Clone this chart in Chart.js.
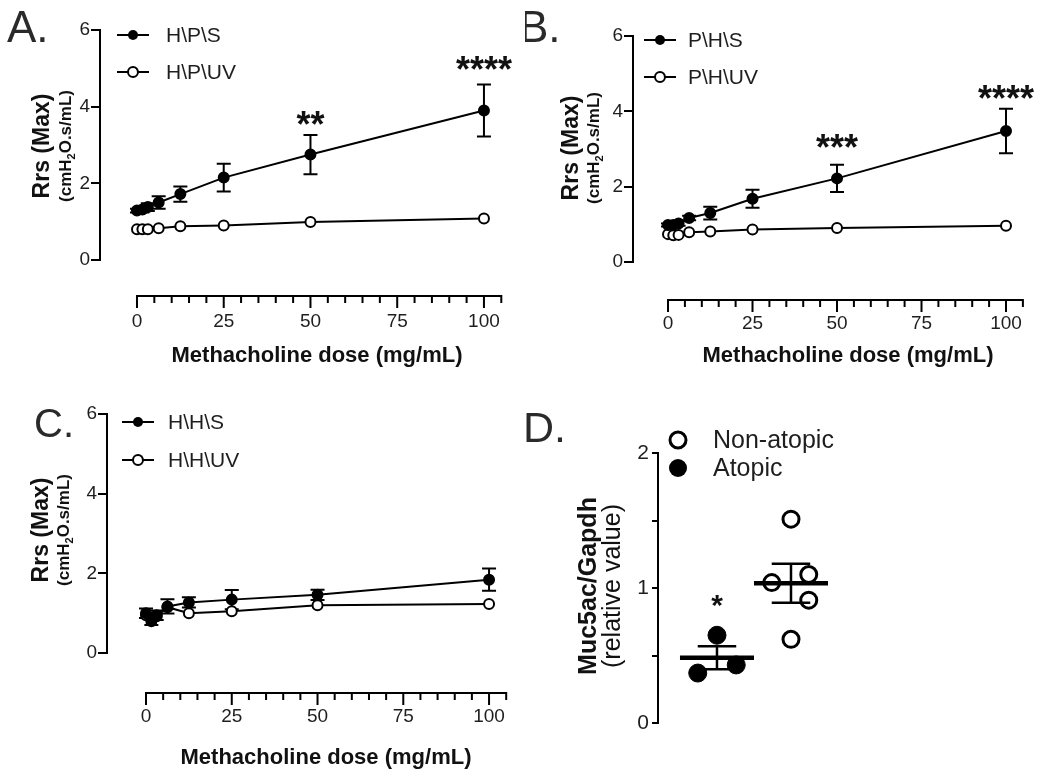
<!DOCTYPE html>
<html><head><meta charset="utf-8">
<script src="https://cdn.jsdelivr.net/npm/chart.js@4.4.1/dist/chart.umd.min.js"></script>
<style>
html,body{margin:0;padding:0;background:#fff;}
body{width:1050px;height:780px;position:relative;overflow:hidden;}
.panel{position:absolute;width:525px;height:390px;}
.panel canvas{display:block;}
</style></head><body>
<div class="panel" style="left:0;top:0"><canvas id="cA" width="525" height="390"></canvas></div>
<div class="panel" style="left:525px;top:0"><canvas id="cB" width="525" height="390"></canvas></div>
<div class="panel" style="left:0;top:390px"><canvas id="cC" width="525" height="390"></canvas></div>
<div class="panel" style="left:525px;top:390px"><canvas id="cD" width="525" height="390"></canvas></div>
<script>
// ---------------- DATA ----------------
const doses = [0, 1.5625, 3.125, 6.25, 12.5, 25, 50, 100];
const xTickValues = [0, 25, 50, 75, 100];
const rrsTickValues = [0, 2, 4, 6];

// Panel A
const hpsMean  = [1.29, 1.32, 1.38, 1.50, 1.72, 2.15, 2.75, 3.90];
const hpsSem   = [0.05, 0.08, 0.10, 0.16, 0.20, 0.36, 0.51, 0.68];
const hpuvMean = [0.80, 0.80, 0.80, 0.83, 0.88, 0.90, 0.99, 1.08];
// Panel B
const phsMean  = [0.98, 0.98, 1.02, 1.17, 1.30, 1.68, 2.22, 3.48];
const phsSem   = [0.04, 0.05, 0.06, 0.06, 0.17, 0.24, 0.36, 0.59];
const phuvMean = [0.74, 0.71, 0.72, 0.79, 0.81, 0.86, 0.90, 0.96];
// Panel C
const hhsMean  = [1.00, 0.80, 0.95, 1.17, 1.27, 1.34, 1.46, 1.84];
const hhsSem   = [0.12, 0.10, 0.12, 0.18, 0.13, 0.24, 0.13, 0.28];
const hhuvMean = [0.95, 0.88, 0.92, 1.15, 1.00, 1.05, 1.20, 1.23];

// Panel D
const groupsD = ['Atopic', 'Non-atopic'];
const atopicValues = [0.65, 0.37, 0.43];
const atopicJitter = [0, -0.26, 0.26];
const nonAtopicValues = [1.51, 1.04, 1.10, 0.91, 0.62];
const nonAtopicJitter = [0, -0.26, 0.24, 0.24, 0];
const mucTickValues = [0, 0.5, 1, 1.5, 2];

// -------------- HELPERS ---------------
const FONT = '"Liberation Sans", Arial, Helvetica, sans-serif';
const INK = '#1e1e1e';

function pts(xs, ys) { return xs.map((x, i) => ({ x: x, y: ys[i] })); }
function mean(a) { return a.reduce((s, v) => s + v, 0) / a.length; }
function sem(a) { const m = mean(a); const v = a.reduce((s, x) => s + (x - m) * (x - m), 0) / (a.length - 1); return Math.sqrt(v / a.length); }

const prism = {
  id: 'prism',
  beforeDatasetsDraw(chart, args, o) {
    const ctx = chart.ctx, xs = chart.scales.x, ys = chart.scales.y;
    (o.errorBars || []).forEach(eb => {
      ctx.save();
      ctx.strokeStyle = '#000'; ctx.lineWidth = 2; ctx.lineCap = 'butt';
      eb.x.forEach((xv, i) => {
        const px = xs.getPixelForValue(xv);
        const y1 = ys.getPixelForValue(eb.y[i] - eb.err[i]);
        const y2 = ys.getPixelForValue(eb.y[i] + eb.err[i]);
        ctx.beginPath();
        ctx.moveTo(px, y1); ctx.lineTo(px, y2);
        ctx.moveTo(px - eb.cap, y1); ctx.lineTo(px + eb.cap, y1);
        ctx.moveTo(px - eb.cap, y2); ctx.lineTo(px + eb.cap, y2);
        ctx.stroke();
      });
      ctx.restore();
    });
  },
  afterDatasetsDraw(chart, args, o) {
    const ctx = chart.ctx, xs = chart.scales.x, ys = chart.scales.y;
    (o.meanBars || []).forEach(mb => {
      const px = xs.getPixelForValue(mb.x);
      const pm = ys.getPixelForValue(mb.mean);
      const hw = xs.getPixelForValue(mb.x + mb.halfWidth) - px;
      const cw = xs.getPixelForValue(mb.x + mb.capHalf) - px;
      const y1 = ys.getPixelForValue(mb.mean - mb.sem), y2 = ys.getPixelForValue(mb.mean + mb.sem);
      ctx.save();
      ctx.strokeStyle = '#000';
      ctx.lineWidth = 2.5;
      ctx.beginPath();
      ctx.moveTo(px, y1); ctx.lineTo(px, y2);
      ctx.moveTo(px - cw, y1); ctx.lineTo(px + cw, y1);
      ctx.moveTo(px - cw, y2); ctx.lineTo(px + cw, y2);
      ctx.stroke();
      ctx.lineWidth = 4.5;
      ctx.beginPath(); ctx.moveTo(px - hw, pm); ctx.lineTo(px + hw, pm); ctx.stroke();
      ctx.restore();
    });
  },
  afterDraw(chart, args, o) {
    const ctx = chart.ctx, xs = chart.scales.x, ys = chart.scales.y;
    const ca = chart.chartArea;
    ctx.save();
    ctx.fillStyle = INK; ctx.strokeStyle = '#000';
    // offset x axis
    if (o.xAxis) {
      const ax = o.xAxis;
      const y0 = ca.bottom + ax.offset;
      const a = xs.getPixelForValue(ax.from), b = xs.getPixelForValue(ax.to);
      ctx.lineWidth = 2; ctx.lineCap = 'square';
      ctx.beginPath();
      ctx.moveTo(a, y0); ctx.lineTo(b, y0);
      for (let v = ax.from; v <= ax.to + 1e-9; v += ax.minorStep) {
        const px = xs.getPixelForValue(v);
        const len = (Math.abs(v % ax.majorStep) < 1e-9) ? 11 : 6;
        ctx.moveTo(px, y0); ctx.lineTo(px, y0 + len);
      }
      ctx.stroke();
    }
    // annotations (data coords)
    (o.stars || []).forEach(s => {
      ctx.font = 'bold ' + s.size + 'px ' + FONT;
      ctx.textAlign = 'center'; ctx.textBaseline = 'alphabetic';
      ctx.fillStyle = '#111';
      ctx.fillText(s.text, xs.getPixelForValue(s.x), ys.getPixelForValue(s.y) + 0.58 * s.size);
    });
    ctx.translate(-o.origin[0], -o.origin[1]);
    ctx.fillStyle = INK;
    // panel letter
    if (o.letter) {
      ctx.font = o.letter.size + 'px ' + FONT;
      ctx.textAlign = 'left'; ctx.textBaseline = 'alphabetic';
      ctx.fillStyle = '#2a2a2a';
      ctx.fillText(o.letter.text, o.letter.x, o.letter.y);
      ctx.fillStyle = INK;
    }
    // x title
    if (o.xTitle) {
      ctx.font = 'bold ' + o.xTitle.size + 'px ' + FONT;
      ctx.textAlign = 'center'; ctx.textBaseline = 'alphabetic';
      ctx.fillStyle = '#111';
      ctx.fillText(o.xTitle.text, o.xTitle.x, o.xTitle.y);
    }
    // y title (rotated, multiple lines with segments)
    if (o.yTitle) {
      o.yTitle.lines.forEach(line => {
        ctx.save();
        ctx.translate(line.x, o.yTitle.cy);
        ctx.rotate(-Math.PI / 2);
        let total = 0;
        line.segs.forEach(s => {
          ctx.font = (s.weight || 'bold') + ' ' + s.size + 'px ' + FONT;
          s._w = ctx.measureText(s.text).width; total += s._w;
        });
        let x = -total / 2;
        ctx.textAlign = 'left'; ctx.textBaseline = 'alphabetic';
        ctx.fillStyle = '#111';
        const base = 0.36 * line.segs[0].size;
        line.segs.forEach(s => {
          ctx.font = (s.weight || 'bold') + ' ' + s.size + 'px ' + FONT;
          ctx.fillText(s.text, x, base + (s.dy || 0));
          x += s._w;
        });
        ctx.restore();
      });
    }
    // legend
    (o.legend || []).forEach(l => {
      ctx.lineWidth = 2; ctx.strokeStyle = '#000';
      if (l.line) {
        ctx.beginPath(); ctx.moveTo(l.mx - l.line, l.y); ctx.lineTo(l.mx + l.line, l.y); ctx.stroke();
      }
      ctx.beginPath(); ctx.arc(l.mx, l.y, l.r, 0, Math.PI * 2);
      if (l.filled) { ctx.fillStyle = '#000'; ctx.fill(); }
      else { ctx.fillStyle = '#fff'; ctx.fill(); ctx.lineWidth = l.bw; ctx.stroke(); }
      ctx.fillStyle = INK;
      ctx.font = l.size + 'px ' + FONT;
      ctx.textAlign = 'left'; ctx.textBaseline = 'middle';
      ctx.fillText(l.text, l.tx, l.y + 1);
    });
    ctx.restore();
  }
};

function fixedScales(yWidth, xHeight, xOpts, yOpts) {
  return {
    x: Object.assign({
      type: 'linear',
      border: { display: false },
      grid: { display: false, drawTicks: false, tickLength: 0 },
      afterFit: s => { s.height = xHeight; s.paddingLeft = 0; s.paddingRight = 0; }
    }, xOpts),
    y: Object.assign({
      type: 'linear',
      border: { display: true, color: '#000', width: 2 },
      grid: { drawOnChartArea: false, drawTicks: true, tickLength: 9, color: '#000', lineWidth: 2 },
      afterFit: s => { s.width = yWidth; s.paddingTop = 0; s.paddingBottom = 0; }
    }, yOpts)
  };
}

function doseChart(id, cfg) {
  const scales = fixedScales(cfg.yWidth, cfg.xHeight, {
    min: cfg.xMin, max: 105,
    afterBuildTicks: s => { s.ticks = xTickValues.map(v => ({ value: v })); },
    ticks: { padding: cfg.xLabelPad, maxRotation: 0, autoSkip: false, color: INK, font: { family: FONT, size: 19 } }
  }, {
    min: 0, max: 6,
    afterBuildTicks: s => { s.ticks = rrsTickValues.map(v => ({ value: v })); },
    ticks: { padding: 1, color: INK, font: { family: FONT, size: 19 } }
  });
  return new Chart(document.getElementById(id), {
    type: 'scatter',
    data: {
      datasets: [
        { label: cfg.names[0], data: pts(doses, cfg.s), showLine: true, borderColor: '#000', borderWidth: 2,
          pointRadius: 5, pointBorderWidth: 2, pointBackgroundColor: '#000', pointBorderColor: '#000' },
        { label: cfg.names[1], data: pts(doses, cfg.uv), showLine: true, borderColor: '#000', borderWidth: 2,
          pointRadius: 5, pointBorderWidth: 2, pointBackgroundColor: '#fff', pointBorderColor: '#000' }
      ]
    },
    options: {
      responsive: false, animation: false, events: [],
      layout: { padding: cfg.padding },
      scales: scales,
      plugins: {
        legend: { display: false }, tooltip: { enabled: false },
        prism: {
          origin: cfg.origin,
          errorBars: [{ x: doses, y: cfg.s, err: cfg.sem, cap: 7 }],
          xAxis: { offset: cfg.axisOffset, from: 0, to: 105, minorStep: 5, majorStep: 25 },
          stars: cfg.stars,
          letter: cfg.letter,
          xTitle: { text: 'Methacholine dose (mg/mL)', size: 22, x: cfg.xTitle[0], y: cfg.xTitle[1] },
          yTitle: { cy: cfg.yTitle.cy, lines: [
            { x: cfg.yTitle.x1, segs: [{ text: 'Rrs (Max)', size: 23 }] },
            { x: cfg.yTitle.x2, segs: [{ text: '(cmH', size: 17 }, { text: '2', size: 11, dy: 4 }, { text: 'O.s/mL)', size: 17 }] }
          ] },
          legend: [
            { text: cfg.names[0], filled: true, mx: cfg.legend.mx, y: cfg.legend.y1, r: 5, bw: 2, line: 15, tx: cfg.legend.tx, size: 21 },
            { text: cfg.names[1], filled: false, mx: cfg.legend.mx, y: cfg.legend.y2, r: 5, bw: 2, line: 15, tx: cfg.legend.tx, size: 21 }
          ]
        }
      }
    },
    plugins: [prism]
  });
}

// Panel A
doseChart('cA', {
  names: ['H\\P\\S', 'H\\P\\UV'], s: hpsMean, sem: hpsSem, uv: hpuvMean,
  origin: [0, 0], yWidth: 100, xHeight: 130, xMin: -10.66, xLabelPad: 50, axisOffset: 36,
  padding: { top: 30, left: 0, right: 23.7, bottom: 0 },
  stars: [{ x: 50, y: 3.76, text: '**', size: 36 }, { x: 100, y: 5.2, text: '****', size: 36 }],
  letter: { text: 'A.', x: 7, y: 42, size: 44 },
  xTitle: [317, 362],
  yTitle: { cy: 146, x1: 41, x2: 65 },
  legend: { mx: 133, y1: 35, y2: 72, tx: 166 }
});
// Panel B
doseChart('cB', {
  names: ['P\\H\\S', 'P\\H\\UV'], s: phsMean, sem: phsSem, uv: phuvMean,
  origin: [525, 0], yWidth: 108, xHeight: 128, xMin: -10.36, xLabelPad: 50, axisOffset: 38,
  padding: { top: 36, left: 0, right: 27.1, bottom: 0 },
  stars: [{ x: 50, y: 3.27, text: '***', size: 36 }, { x: 100, y: 4.57, text: '****', size: 36 }],
  letter: { text: 'B.', x: 519, y: 42, size: 44 },
  xTitle: [848, 362],
  yTitle: { cy: 148, x1: 570, x2: 593 },
  legend: { mx: 660, y1: 40, y2: 77, tx: 688 }
});
// Panel C
doseChart('cC', {
  names: ['H\\H\\S', 'H\\H\\UV'], s: hhsMean, sem: hhsSem, uv: hhuvMean,
  origin: [0, 390], yWidth: 107, xHeight: 127, xMin: -11.37, xLabelPad: 52, axisOffset: 40,
  padding: { top: 24, left: 0, right: 18.8, bottom: 0 },
  stars: [],
  letter: { text: 'C.', x: 34, y: 437, size: 40 },
  xTitle: [326, 764],
  yTitle: { cy: 530, x1: 40, x2: 63 },
  legend: { mx: 138, y1: 422, y2: 460, tx: 168 }
});

// Panel D
(function () {
  const scales = fixedScales(133, 0, {
    display: false, min: 0.203, max: 2.6
  }, {
    min: 0, max: 2,
    afterBuildTicks: s => { s.ticks = mucTickValues.map(v => ({ value: v })); },
    grid: { drawOnChartArea: false, drawTicks: true, tickLength: 6, color: '#000', lineWidth: 2 },
    ticks: { padding: 3, color: INK, font: { family: FONT, size: 21 },
      callback: v => (Math.abs(v % 1) < 1e-9 ? String(v) : '') }
  });
  new Chart(document.getElementById('cD'), {
    type: 'scatter',
    data: {
      datasets: [
        { label: groupsD[0], data: atopicValues.map((v, i) => ({ x: 1 + atopicJitter[i], y: v })),
          pointRadius: 9, pointBorderWidth: 1, pointBackgroundColor: '#000', pointBorderColor: '#000' },
        { label: groupsD[1], data: nonAtopicValues.map((v, i) => ({ x: 2 + nonAtopicJitter[i], y: v })),
          pointRadius: 8, pointBorderWidth: 3, pointBackgroundColor: '#fff', pointBorderColor: '#000' }
      ]
    },
    options: {
      responsive: false, animation: false, events: [],
      layout: { padding: { top: 63, left: 0, right: 214.6, bottom: 57 } },
      scales: scales,
      plugins: {
        legend: { display: false }, tooltip: { enabled: false },
        prism: {
          origin: [525, 390],
          meanBars: [
            { x: 1, mean: mean(atopicValues), sem: sem(atopicValues), halfWidth: 0.5, capHalf: 0.26 },
            { x: 2, mean: mean(nonAtopicValues), sem: sem(nonAtopicValues), halfWidth: 0.5, capHalf: 0.26 }
          ],
          stars: [{ x: 1, y: 0.93, text: '*', size: 30 }],
          letter: { text: 'D.', x: 523, y: 442, size: 43 },
          yTitle: { cy: 586, lines: [
            { x: 587, segs: [{ text: 'Muc5ac/Gapdh', size: 25 }] },
            { x: 611, segs: [{ text: '(relative value)', size: 25, weight: 'normal' }] }
          ] },
          legend: [
            { text: 'Non-atopic', filled: false, mx: 678, y: 440, r: 8, bw: 3, line: 0, tx: 713, size: 25 },
            { text: 'Atopic', filled: true, mx: 678, y: 468, r: 9, bw: 1, line: 0, tx: 713, size: 25 }
          ]
        }
      }
    },
    plugins: [prism]
  });
})();
</script>
</body></html>
